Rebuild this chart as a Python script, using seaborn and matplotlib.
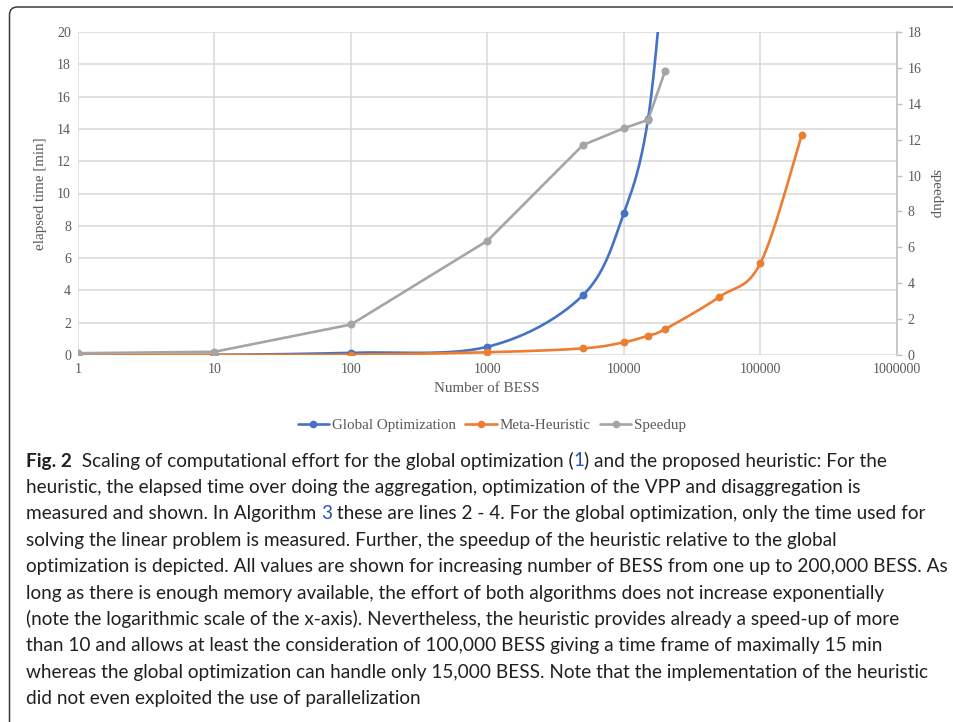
import numpy as np
import pandas as pd
import matplotlib
matplotlib.use("Agg")
import matplotlib.pyplot as plt
import seaborn as sns
from matplotlib.lines import Line2D
from matplotlib.patches import FancyBboxPatch
from matplotlib.transforms import IdentityTransform
from matplotlib.font_manager import FontProperties

# ---- data -------------------------------------------------------------
global_n = [1, 10, 100, 1000, 5000, 10000, 15000, 20000]
global_min = [0.0, 0.01, 0.14, 0.51, 3.7, 8.8, 14.6, 25.0]

meta_n = [1, 10, 100, 1000, 5000, 10000, 15000, 20000, 50000, 100000, 200000]
meta_min = [0.0, 0.0, 0.02, 0.17, 0.41, 0.79, 1.2, 1.6, 3.6, 5.7, 13.6]

speedup_n = [1, 10, 100, 1000, 5000, 10000, 15000, 20000]
speedup = [0.1, 0.18, 1.7, 6.37, 11.7, 12.64, 13.1, 15.83]

x_ticks = [1, 10, 100, 1000, 10000, 100000, 1000000]
x_tick_labels = ["1", "10", "100", "1000", "10000", "100000", "1000000"]
left_ticks = list(range(0, 21, 2))
right_ticks = list(range(0, 19, 2))

series_names = ["Global Optimization", "Meta-Heuristic", "Speedup"]

caption_lines = [
    [("Fig. 2", "bold", "text"),
     ("  Scaling of computational effort for the global optimization (", "normal", "text"),
     ("1", "normal", "link"),
     (") and the proposed heuristic: For the", "normal", "text")],
    [("heuristic, the elapsed time over doing the aggregation, optimization of the VPP and disaggregation is", "normal", "text")],
    [("measured and shown. In Algorithm ", "normal", "text"),
     ("3", "normal", "link"),
     (" these are lines 2 - 4. For the global optimization, only the time used for", "normal", "text")],
    [("solving the linear problem is measured. Further, the speedup of the heuristic relative to the global", "normal", "text")],
    [("optimization is depicted. All values are shown for increasing number of BESS from one up to 200,000 BESS. As", "normal", "text")],
    [("long as there is enough memory available, the effort of both algorithms does not increase exponentially", "normal", "text")],
    [("(note the logarithmic scale of the x-axis). Nevertheless, the heuristic provides already a speed-up of more", "normal", "text")],
    [("than 10 and allows at least the consideration of 100,000 BESS giving a time frame of maximally 15 min", "normal", "text")],
    [("whereas the global optimization can handle only 15,000 BESS. Note that the implementation of the heuristic", "normal", "text")],
    [("did not even exploited the use of parallelization", "normal", "text")],
]

# ---- style ------------------------------------------------------------
BLUE, ORANGE, GREY = "#4472C4", "#ED7D31", "#A5A5A5"
TICK_GREY = "#595959"
GRID = "#D9D9D9"
SERIF = "Liberation Serif"

sns.set_theme(style="white")
plt.rcParams["font.family"] = [SERIF, "DejaVu Serif"]

W, H = 954, 722
fig = plt.figure(figsize=(W / 100, H / 100), dpi=100)


def smooth_curve(xs, ys, steps=40):
    """Cardinal (Catmull-Rom) Bezier smoothing in log-x space."""
    pts = np.column_stack([np.log10(xs), np.asarray(ys, float)])
    pts = np.vstack([pts[0], pts, pts[-1]])
    t = np.linspace(0, 1, steps)[:, None]
    out = []
    for i in range(1, len(pts) - 2):
        p0, p1, p2, p3 = pts[i - 1], pts[i], pts[i + 1], pts[i + 2]
        b1 = p1 + (p2 - p0) / 6
        b2 = p2 - (p3 - p1) / 6
        seg = (1 - t) ** 3 * p1 + 3 * (1 - t) ** 2 * t * b1 + 3 * (1 - t) * t ** 2 * b2 + t ** 3 * p2
        out.append(seg if i == 1 else seg[1:])
    out = np.vstack(out)
    return pd.DataFrame({"n": 10 ** out[:, 0], "v": out[:, 1]})


# ---- main axes (elapsed time) ----------------------------------------
ax = fig.add_axes([78 / W, 1 - 355 / H, (897 - 78) / W, 323 / H])
ax.set_xscale("log")
ax.set_xlim(1, 1e6)
ax.set_ylim(0, 20)
ax.set_xticks(x_ticks)
ax.set_xticklabels(x_tick_labels)
ax.xaxis.set_minor_locator(matplotlib.ticker.NullLocator())
ax.set_yticks(left_ticks)
ax.grid(True, color=GRID, lw=1.1)
ax.set_axisbelow(True)
for s in ax.spines.values():
    s.set_visible(False)
ax.tick_params(axis="both", length=0, labelsize=10, labelcolor=TICK_GREY)
ax.tick_params(axis="y", pad=5)
ax.tick_params(axis="x", pad=6)

g_df = smooth_curve(global_n, global_min)
m_df = smooth_curve(meta_n, meta_min)
sns.lineplot(data=g_df, x="n", y="v", ax=ax, color=BLUE, lw=1.9,
             estimator=None, sort=False, zorder=3)
sns.lineplot(data=m_df, x="n", y="v", ax=ax, color=ORANGE, lw=1.9,
             estimator=None, sort=False, zorder=3)
sns.scatterplot(x=global_n, y=global_min, ax=ax, color=BLUE, s=32,
                linewidth=0, zorder=4)
sns.scatterplot(x=meta_n, y=meta_min, ax=ax, color=ORANGE, s=32,
                linewidth=0, zorder=4)
ax.set_xlabel("")
ax.set_ylabel("")

# ---- secondary axes (speedup) ----------------------------------------
ax2 = ax.twinx()
ax2.set_ylim(0, 18)
ax2.set_yticks(right_ticks)
for name, s in ax2.spines.items():
    s.set_visible(name == "right")
ax2.spines["right"].set_color("#BFBFBF")
ax2.spines["right"].set_linewidth(1.1)
ax2.tick_params(axis="y", right=True, length=3.6, width=1, color="#BFBFBF",
                labelsize=10, labelcolor=TICK_GREY, pad=4)
sns.lineplot(x=speedup_n, y=speedup, ax=ax2, color=GREY, lw=1.9,
             marker="o", markersize=5.8, markeredgewidth=0, zorder=5)
ax2.set_xlim(1, 1e6)
ax2.set_ylabel("")
for lab in ax.get_xticklabels() + ax.get_yticklabels() + ax2.get_yticklabels():
    lab.set_fontfamily(SERIF)

# ---- axis titles -----------------------------------------------------
fig.text(487 / W, 1 - 388 / H, "Number of BESS", ha="center", va="center",
         fontsize=10.8, color=TICK_GREY, family=SERIF)
fig.text(41 / W, 1 - 194 / H, "elapsed time [min]", ha="center", va="center",
         rotation=90, fontsize=10.8, color=TICK_GREY, family=SERIF)
fig.text(936 / W, 1 - 194 / H, "speedup", ha="center", va="center",
         rotation=270, fontsize=10.8, color=TICK_GREY, family=SERIF)

# ---- legend ----------------------------------------------------------
handles = [Line2D([], [], color=c, lw=1.9, marker="o", markersize=5.5,
                  markeredgewidth=0) for c in (BLUE, ORANGE, GREY)]
fig.legend(handles, series_names, loc="center",
           bbox_to_anchor=(492 / W, 1 - 425.6 / H), ncol=3, frameon=False,
           prop=FontProperties(family=SERIF, size=10.8), labelcolor=TICK_GREY,
           handlelength=2.1, handletextpad=0.2, columnspacing=0.6,
           borderaxespad=0, borderpad=0)

# ---- caption ---------------------------------------------------------
renderer = fig.canvas.get_renderer()
CAP_FONT = ["Lato", "DejaVu Sans"]
colors = {"text": "#231F20", "link": "#2B4FB5"}
CAP_LEFT, CAP_RIGHT = 26.0, 950.0


def text_width(s, weight, size):
    prop = FontProperties(family=CAP_FONT, size=size, weight=weight)
    w1, _, _ = renderer.get_text_width_height_descent(s + "|", prop, ismath=False)
    w2, _, _ = renderer.get_text_width_height_descent("|", prop, ismath=False)
    return w1 - w2


# size the caption so its widest line fills the text block
base = 14.0
widest = max(sum(text_width(s, wt, base) for s, wt, _ in p) for p in caption_lines)
CAP_SIZE = base * (CAP_RIGHT - CAP_LEFT) / widest

for i, pieces in enumerate(caption_lines):
    x = CAP_LEFT
    y = 466.5 + 26.4 * i
    for s, weight, kind in pieces:
        fig.text(x / W, 1 - y / H, s, ha="left", va="baseline",
                 fontsize=CAP_SIZE, family=CAP_FONT, weight=weight,
                 color=colors[kind])
        x += text_width(s, weight, CAP_SIZE)

# ---- frame -----------------------------------------------------------
frame = FancyBboxPatch((9.5, -30), 1000, H - 7 + 30,
                       boxstyle="round,pad=0,rounding_size=8",
                       transform=IdentityTransform(), fill=False,
                       edgecolor="#3A3A3A", lw=1.1)
fig.patches.append(frame)

fig.savefig("out.png", dpi=100)
